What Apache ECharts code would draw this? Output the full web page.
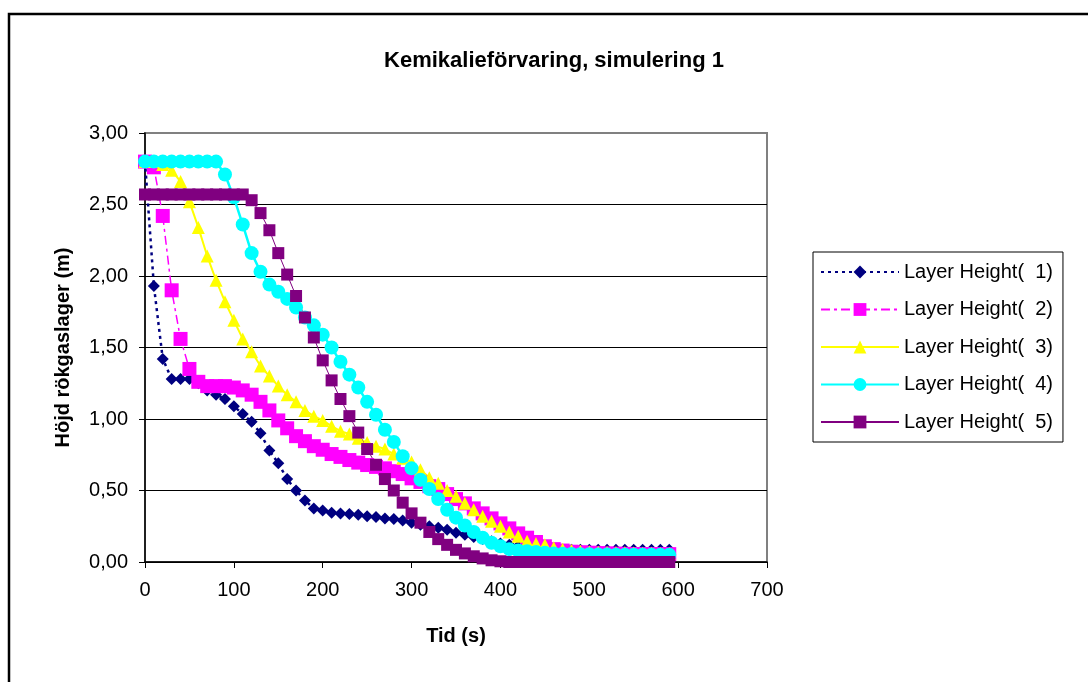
<!DOCTYPE html>
<html>
<head>
<meta charset="utf-8">
<script src="https://cdn.jsdelivr.net/npm/echarts@6/dist/echarts.min.js"></script>
<style>
html,body{margin:0;padding:0;background:#fff;}
#chart{width:1088px;height:682px;}
</style>
</head>
<body>
<div id="chart"></div>
<script>
const times = [0,10,20,30,40,50,60,70,80,90,100,110,120,130,140,150,160,170,180,190,200,210,220,230,240,250,260,270,280,290,300,310,320,330,340,350,360,370,380,390,400,410,420,430,440,450,460,470,480,490,500,510,520,530,540,550,560,570,580,590];

const layer1 = [2.80,1.93,1.42,1.28,1.28,1.28,1.25,1.20,1.17,1.14,1.09,1.035,0.98,0.90,0.78,0.69,0.58,0.50,0.43,0.375,0.36,0.345,0.34,0.335,0.33,0.32,0.315,0.305,0.30,0.29,0.275,0.26,0.25,0.24,0.225,0.205,0.19,0.175,0.16,0.145,0.13,0.12,0.11,0.10,0.095,0.09,0.09,0.085,0.085,0.085,0.085,0.085,0.085,0.085,0.085,0.085,0.085,0.085,0.085,0.085];

const layer2 = [2.80,2.76,2.42,1.90,1.56,1.35,1.26,1.23,1.23,1.23,1.22,1.20,1.17,1.12,1.06,0.99,0.935,0.88,0.845,0.81,0.785,0.755,0.735,0.713,0.695,0.678,0.665,0.655,0.635,0.615,0.585,0.56,0.53,0.51,0.475,0.44,0.41,0.375,0.34,0.305,0.27,0.235,0.20,0.17,0.14,0.11,0.09,0.08,0.072,0.068,0.065,0.062,0.06,0.058,0.057,0.056,0.055,0.055,0.055,0.055];

const layer3 = [2.80,2.80,2.78,2.74,2.66,2.52,2.34,2.14,1.97,1.82,1.69,1.56,1.47,1.37,1.30,1.23,1.17,1.12,1.06,1.02,0.99,0.95,0.915,0.895,0.865,0.835,0.81,0.79,0.755,0.725,0.70,0.645,0.59,0.55,0.50,0.46,0.41,0.365,0.32,0.285,0.25,0.21,0.18,0.145,0.13,0.12,0.10,0.09,0.08,0.075,0.07,0.068,0.066,0.065,0.064,0.063,0.062,0.061,0.06,0.06];

const layer4 = [2.80,2.80,2.80,2.80,2.80,2.80,2.80,2.80,2.80,2.71,2.55,2.36,2.16,2.03,1.94,1.89,1.84,1.78,1.71,1.655,1.59,1.50,1.40,1.31,1.22,1.12,1.03,0.925,0.84,0.74,0.655,0.575,0.51,0.44,0.365,0.31,0.255,0.21,0.17,0.135,0.11,0.09,0.08,0.075,0.07,0.065,0.06,0.058,0.056,0.055,0.054,0.053,0.052,0.051,0.05,0.05,0.05,0.05,0.05,0.05];

const layer5 = [2.57,2.57,2.57,2.57,2.57,2.57,2.57,2.57,2.57,2.57,2.57,2.57,2.53,2.44,2.32,2.16,2.01,1.86,1.71,1.57,1.41,1.27,1.14,1.02,0.905,0.79,0.68,0.58,0.50,0.415,0.34,0.275,0.21,0.16,0.12,0.085,0.06,0.04,0.025,0.012,0.005,0,0,0,0,0,0,0,0,0,0,0,0,0,0,0,0,0,0,0];

const seriesNames = ['Layer Height(  1)','Layer Height(  2)','Layer Height(  3)','Layer Height(  4)','Layer Height(  5)'];
const xTicks = [0,100,200,300,400,500,600,700];
const yTicks = ['0,00','0,50','1,00','1,50','2,00','2,50','3,00'];

function pairs(vals){ return times.map((t,i)=>[t, vals[i]]); }

const chart = echarts.init(document.getElementById('chart'), null, {renderer:'canvas'});
const FONT = 'Liberation Sans, Arial, sans-serif';

chart.setOption({
  animation: false,
  backgroundColor: '#ffffff',
  title: {
    text: 'Kemikalieförvaring, simulering 1',
    left: 549, top: 45, textAlign: 'center',
    textStyle: {fontFamily: FONT, fontSize: 22, fontWeight: 'bold', color: '#000'}
  },
  graphic: [{
    type: 'rect', silent: true, z: 100,
    shape: {x: 9, y: 14, width: 1200, height: 800},
    style: {fill: 'none', stroke: '#000', lineWidth: 2.5}
  }],
  legend: {
    orient: 'vertical',
    left: 813, top: 252,
    padding: [9, 10, 9, 7],
    borderColor: '#000', borderWidth: 1,
    itemWidth: 78, itemHeight: 16, itemGap: 15.5,
    textStyle: {fontFamily: FONT, fontSize: 20, color: '#000', lineHeight: 22},
    data: seriesNames
  },
  grid: {
    left: 145, top: 133, width: 622, height: 429,
    show: true, borderColor: '#808080', borderWidth: 2,
    containLabel: false
  },
  xAxis: {
    type: 'value', min: 0, max: 700, interval: 100,
    name: 'Tid (s)', nameLocation: 'middle', nameGap: 64,
    nameTextStyle: {fontFamily: FONT, fontSize: 20, fontWeight: 'bold', color: '#000'},
    axisLine: {show: true, lineStyle: {color: '#000', width: 1.5}},
    axisTick: {show: true, inside: false, length: 6, lineStyle: {color: '#000'}},
    axisLabel: {fontFamily: FONT, fontSize: 20, color: '#000', margin: 18,
      formatter: v => xTicks.includes(v) ? String(v) : ''},
    splitLine: {show: false}
  },
  yAxis: {
    type: 'value', min: 0, max: 3, interval: 0.5,
    name: 'Höjd rökgaslager (m)', nameLocation: 'middle', nameGap: 72, nameRotate: 90,
    nameTextStyle: {fontFamily: FONT, fontSize: 20, fontWeight: 'bold', color: '#000'},
    axisLine: {show: true, lineStyle: {color: '#000', width: 1.5}},
    axisTick: {show: true, inside: false, length: 6, lineStyle: {color: '#000'}},
    axisLabel: {fontFamily: FONT, fontSize: 20, color: '#000', margin: 17,
      formatter: v => yTicks[Math.round(v * 2)] || ''},
    splitLine: {show: true, lineStyle: {color: ['#000','#000','#000','#000','#000','#000','#808080'], width: 1}}
  },
  series: [
    {name: seriesNames[0], type: 'line', data: pairs(layer1), symbol: 'diamond', symbolSize: 12,
     itemStyle: {color: '#000080'}, lineStyle: {color: '#000080', width: 2.5, type: [3, 4]}},
    {name: seriesNames[1], type: 'line', data: pairs(layer2), symbol: 'rect', symbolSize: 14,
     itemStyle: {color: '#FF00FF'}, lineStyle: {color: '#FF00FF', width: 1.5, type: [9, 4, 3, 4]}},
    {name: seriesNames[2], type: 'line', data: pairs(layer3), symbol: 'triangle', symbolSize: 13,
     itemStyle: {color: '#FFFF00'}, lineStyle: {color: '#FFFF00', width: 2}},
    {name: seriesNames[3], type: 'line', data: pairs(layer4), symbol: 'circle', symbolSize: 14,
     itemStyle: {color: '#00FFFF'}, lineStyle: {color: '#00FFFF', width: 2.5}},
    {name: seriesNames[4], type: 'line', data: pairs(layer5), symbol: 'rect', symbolSize: 12,
     itemStyle: {color: '#800080'}, lineStyle: {color: '#800080', width: 1}}
  ]
});
</script>
</body>
</html>
